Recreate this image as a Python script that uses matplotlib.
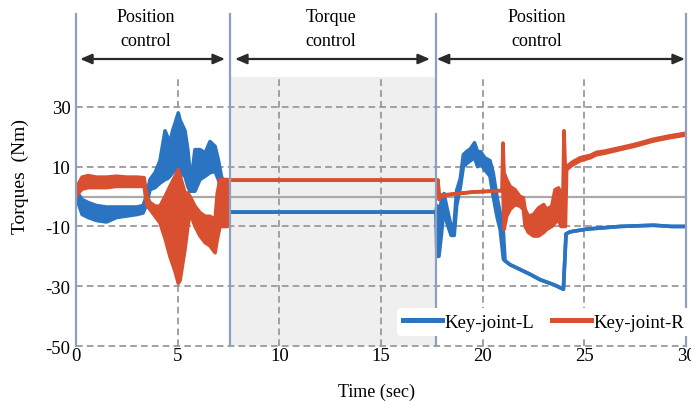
import matplotlib
matplotlib.use('Agg')
import matplotlib.pyplot as plt
import matplotlib.transforms as mtransforms

plt.rcParams['font.family'] = ['Liberation Serif', 'DejaVu Serif']

# ---------------- data ----------------
# Key-joint-L (blue): time, lower envelope, upper envelope
L_t = [0.0, 0.1, 0.3, 0.6, 1.0, 1.5, 2.0, 2.5, 3.0, 3.3, 3.45, 3.64, 3.89, 4.13, 4.38,
       4.5, 4.62, 4.75, 4.87, 5.03, 5.12, 5.36, 5.5, 5.61, 5.75, 5.85, 6.1, 6.35, 6.59,
       6.84, 7.0, 7.15, 7.3, 7.45,
       7.52, 17.7,
       17.75, 17.85, 17.95, 18.1, 18.25, 18.45, 18.6, 18.72, 18.9, 19.05, 19.2, 19.4,
       19.6, 19.75, 19.9, 20.1, 20.36, 20.52, 20.7, 20.86, 21.02, 21.1, 21.35, 22.33,
       22.82, 23.5, 23.97, 24.1, 24.3, 25.1, 26.76, 28.4, 29.3, 30.0]
L_lo = [0.0, -2.0, -6.0, -7.0, -8.0, -8.5, -7.0, -6.5, -6.0, -5.5, -3.0, 2.3, 3.0, 4.5, 5.7,
        6.0, 6.8, 8.0, 9.0, 8.4, 8.0, 6.8, 3.4, 1.8, 1.8, 1.8, 5.7, 6.8, 8.0,
        8.4, 5.7, 2.3, 2.0, 2.0,
        -5.2, -5.2,
        -20.0, -20.0, -14.0, -4.0, -9.0, -13.0, -13.0, -3.0, 3.0, 10.0, 11.0, 12.0,
        13.0, 10.0, 11.0, 9.0, 6.8, 0.0, -6.6, -11.0, -21.0, -21.5, -22.8, -26.0,
        -27.8, -29.5, -31.0, -12.5, -11.8, -10.9, -10.0, -9.6, -10.0, -10.0]
L_hi = [0.0, 1.0, -1.0, -2.0, -3.0, -3.5, -3.5, -3.5, -3.5, -3.0, 0.0, 5.7, 8.0, 12.0, 22.0,
        20.0, 18.0, 22.0, 24.5, 28.0, 25.6, 22.0, 15.7, 8.0, 10.0, 15.7, 15.7, 14.6, 18.4,
        16.8, 12.3, 6.8, 4.0, 4.0,
        -5.2, -5.2,
        -3.0, -8.0, -2.0, 1.0, -4.0, -10.0, -9.0, 2.0, 6.0, 14.0, 15.0, 16.0,
        18.0, 15.0, 15.0, 13.0, 12.0, 7.9, 0.0, -5.4, -12.0, -21.5, -22.8, -26.0,
        -27.8, -29.5, -31.0, -12.5, -11.8, -10.9, -10.0, -9.6, -10.0, -10.0]

# Key-joint-R (red): time, lower envelope, upper envelope
R_t = [0.0, 0.1, 0.3, 0.6, 1.0, 1.5, 2.0, 2.5, 3.0, 3.35, 3.42, 3.5, 3.64, 3.89, 4.13,
       4.38, 4.62, 4.87, 5.03, 5.12, 5.36, 5.5, 5.61, 5.85, 6.1, 6.35, 6.59, 6.84, 6.95,
       7.08, 7.45,
       7.52, 17.7,
       17.8, 17.85, 17.95, 18.5, 19.5, 20.95, 21.0, 21.05, 21.18, 21.35, 21.59, 21.84,
       22.0, 22.09, 22.25, 22.5, 22.75, 23.0, 23.15, 23.4, 23.56, 23.73, 23.85, 23.95,
       24.0, 24.07, 24.13, 24.4, 24.8, 25.3, 25.6, 26.0, 26.8, 27.5, 28.4, 29.2, 30.0]
R_lo = [0.0, 1.0, 2.5, 3.0, 3.0, 3.0, 3.4, 3.4, 3.4, 3.4, 0.0, -3.2, -4.3, -6.6, -8.8,
        -14.0, -20.0, -25.0, -29.0, -28.0, -17.7, -10.0, -5.4, -9.9, -13.2, -15.4, -16.5,
        -18.8, -14.3, -10.0, -10.0,
        5.5, 5.5,
        5.5, -1.0, 0.0, 0.8, 1.5, 2.0, 2.0, -11.0, -6.6, -4.3, -2.7, -3.2,
        -4.3, -10.0, -12.0, -13.2, -13.2, -12.0, -11.0, -10.0, -8.8, -7.7, -10.0, -10.0,
        -10.0, -10.0, 9.0, 10.5, 12.0, 13.0, 14.0, 14.5, 15.8, 16.9, 18.6, 19.7, 20.6]
R_hi = [0.0, 4.0, 6.5, 7.0, 6.5, 6.5, 6.8, 6.5, 6.5, 6.3, 3.0, 0.0, -2.0, -3.2, -3.2,
        0.0, 3.4, 6.8, 9.0, 7.0, 1.2, 1.2, 0.0, -3.2, -5.4, -6.6, -6.6,
        -7.7, 1.2, 5.7, 5.7,
        5.5, 5.5,
        5.5, 1.0, 0.5, 0.8, 1.5, 2.0, 17.9, 8.0, 5.7, 3.4, 2.3, 0.0,
        -0.4, -4.3, -6.6, -6.0, -3.8, -2.7, -4.3, -3.2, 2.3, 2.9, 1.2, 1.0,
        22.0, 8.0, 10.0, 11.5, 13.0, 13.8, 14.8, 15.2, 16.4, 17.5, 19.2, 20.3, 21.2]

series_names = ['Key-joint-L', 'Key-joint-R']
series_colors = ['#2b74c1', '#d8502f']

x_ticks = [0, 5, 10, 15, 20, 25, 30]
y_ticks = [-50, -30, -10, 10, 30]
phase_bounds = [0, 7.55, 17.7, 30]
phase_labels = ['Position\ncontrol', 'Torque\ncontrol', 'Position\ncontrol']
phase_label_x = [3.44, 12.54, 22.68]
arrow_spans = [(0.2, 7.33), (7.82, 17.41), (17.74, 29.95)]

# ---------------- figure ----------------
W, H = 691, 402
fig = plt.figure(figsize=(W / 100, H / 100), dpi=100)
ax = fig.add_axes([76 / W, 1 - 347 / H, 610 / W, 269 / H])
ax.set_xlim(0, 30)
ax.set_ylim(-50, 40)
for s in ax.spines.values():
    s.set_visible(False)

# torque-control shading
ax.axvspan(phase_bounds[1], phase_bounds[2], color='#efefef', zorder=0, lw=0)

# grid
grid_kw = dict(color='#9a9a9a', lw=1.3, linestyle=(0, (3.7, 2.3)), zorder=1, clip_on=False)
for yv in y_ticks:
    ax.plot([0, 30], [yv, yv], **grid_kw)
for xv in x_ticks[1:-1]:
    ax.plot([xv, xv], [-50, 40], **grid_kw)
ax.axhline(0, color='#a9a9a9', lw=1.6, zorder=1)

# data
for t, lo, hi, col, name in [(L_t, L_lo, L_hi, series_colors[0], series_names[0]),
                             (R_t, R_lo, R_hi, series_colors[1], series_names[1])]:
    ax.fill_between(t, lo, hi, color=col, lw=0, zorder=3)
    ax.plot(t, lo, color=col, lw=2.6, zorder=3, solid_joinstyle='round')
    ax.plot(t, hi, color=col, lw=2.6, zorder=3, solid_joinstyle='round', label=name)

# phase separators
for xb in phase_bounds:
    ax.plot([xb, xb], [0, 1.234], color='#8ea0bd', lw=1.6, zorder=4,
            transform=mtransforms.blended_transform_factory(ax.transData, ax.transAxes),
            clip_on=False)

# arrows & phase labels
bt = mtransforms.blended_transform_factory(ax.transData, fig.transFigure)
for (x0, x1) in arrow_spans:
    ax.annotate('', xy=(x1, 1 - 60 / H), xytext=(x0, 1 - 60 / H), xycoords=bt, textcoords=bt,
                arrowprops=dict(arrowstyle='<|-|>,head_length=0.7,head_width=0.3',
                                color='#2a2a2a', lw=1.6, shrinkA=0, shrinkB=0),
                annotation_clip=False)
for lab, xl in zip(phase_labels, phase_label_x):
    l1, l2 = lab.split('\n')
    ax.text(xl, 1 - 18 / H, l1, transform=bt, ha='center', va='center', fontsize=13)
    ax.text(xl, 1 - 42 / H, l2, transform=bt, ha='center', va='center', fontsize=13)

# ticks
ax.set_xticks(x_ticks)
ax.set_yticks(y_ticks)
ax.set_xticklabels([str(v) for v in x_ticks])
ax.set_yticklabels([str(v) for v in y_ticks])
ax.tick_params(axis='both', length=0, labelsize=13.5)
ax.tick_params(axis='x', pad=1)
ax.tick_params(axis='y', pad=4)

# axis labels
fig.text(376 / W, 1 - 392 / H, 'Time (sec)', ha='center', va='center', fontsize=13)
fig.text(20 / W, 1 - 177 / H, 'Torques  (Nm)', ha='center', va='center', rotation=90, fontsize=14)

# legend
leg = ax.legend(loc='center left', bbox_to_anchor=(0.527, 0.089), ncol=2, fontsize=13.5,
                frameon=True, facecolor='white', edgecolor='none', framealpha=1,
                handlelength=2.08, handletextpad=0.15, columnspacing=0.9, borderpad=0.3,
                borderaxespad=0)
leg.set_zorder(6)
for h in leg.get_lines():
    h.set_linewidth(3.6)

fig.savefig('out.png', dpi=100)
